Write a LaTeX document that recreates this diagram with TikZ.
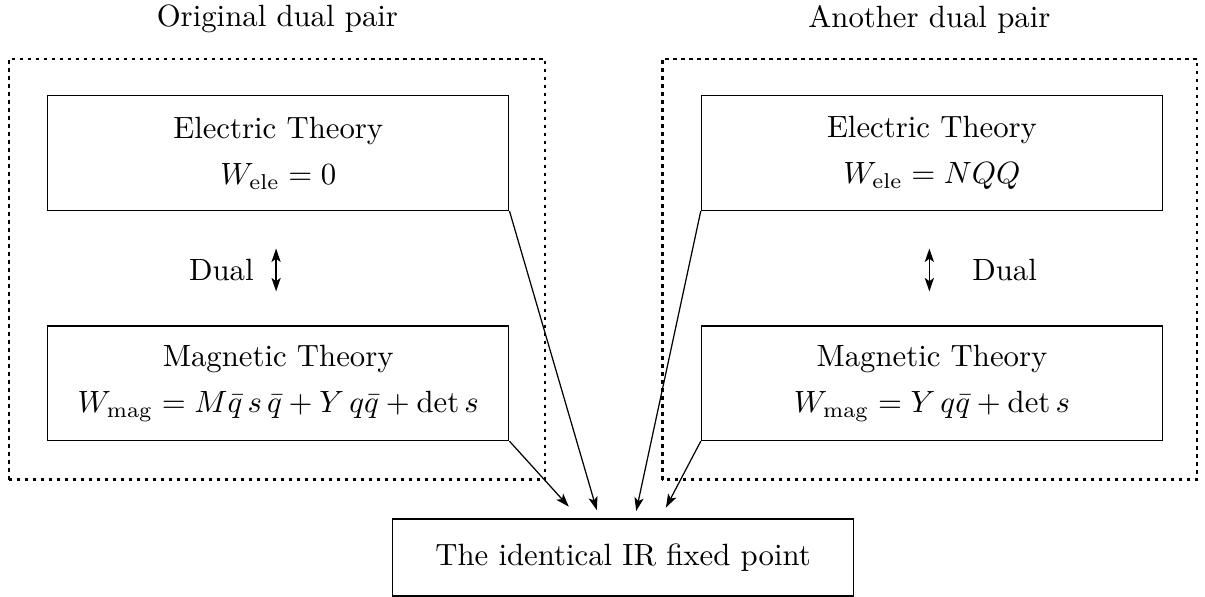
\documentclass[tikz,border=0pt]{standalone}
\usepackage{amsmath}
\usepackage{tikz}
\usetikzlibrary{arrows.meta}

\begin{document}
\begin{tikzpicture}[
    theory/.style={draw,minimum width=5.27cm,minimum height=1.31cm,align=center},
    pairbox/.style={line width=0.7pt,dash pattern=on 1.1pt off 1.5pt},
    >={Stealth[length=4.4pt,width=3pt,inset=1.1pt]},
]
    \useasboundingbox (0,0) rectangle (13.77,6.82);

    % the two dual pairs
    \draw[pairbox] (0.10,1.34) rectangle (6.23,6.15);
    \draw[pairbox] (7.57,1.34) rectangle (13.68,6.15);
    \node (lpair) at (3.17,6.60) {Original dual pair};
    \node (rpair) at (10.62,6.60) {Another dual pair};

    \node[theory] (lele) at (3.18,5.07) {Electric Theory\\[3pt] $W_{\mathrm{ele}}=0$};
    \node[theory] (lmag) at (3.18,2.44) {Magnetic Theory\\[3pt] $W_{\mathrm{mag}}=M\bar{q}\,s\,\bar{q}+Y\,q\bar{q}+\det s$};
    \node[theory] (rele) at (10.65,5.07) {Electric Theory\\[3pt] $W_{\mathrm{ele}}=NQQ$};
    \node[theory] (rmag) at (10.65,2.44) {Magnetic Theory\\[3pt] $W_{\mathrm{mag}}=Y\,q\bar{q}+\det s$};

    \node (ldual) at (2.53,3.73) {Dual};
    \node (rdual) at (11.48,3.73) {Dual};
    \coordinate (lup) at (3.155,3.98);
    \coordinate (ldown) at (3.155,3.49);
    \coordinate (rup) at (10.62,3.98);
    \coordinate (rdown) at (10.62,3.49);
    \draw[<->] (lup) -- (ldown);
    \draw[<->] (rup) -- (rdown);

    % common fixed point
    \node[theory,minimum height=0.88cm] (fixed) at (7.12,0.45) {The identical IR fixed point};
    \coordinate (t1) at (6.82,0.99);
    \coordinate (t2) at (6.50,1.03);
    \coordinate (t3) at (7.27,0.98);
    \coordinate (t4) at (7.61,1.02);
    \draw[->] (lele.south east) -- (t1);
    \draw[->] (lmag.south east) -- (t2);
    \draw[->] (rele.south west) -- (t3);
    \draw[->] (rmag.south west) -- (t4);
\end{tikzpicture}
\end{document}
